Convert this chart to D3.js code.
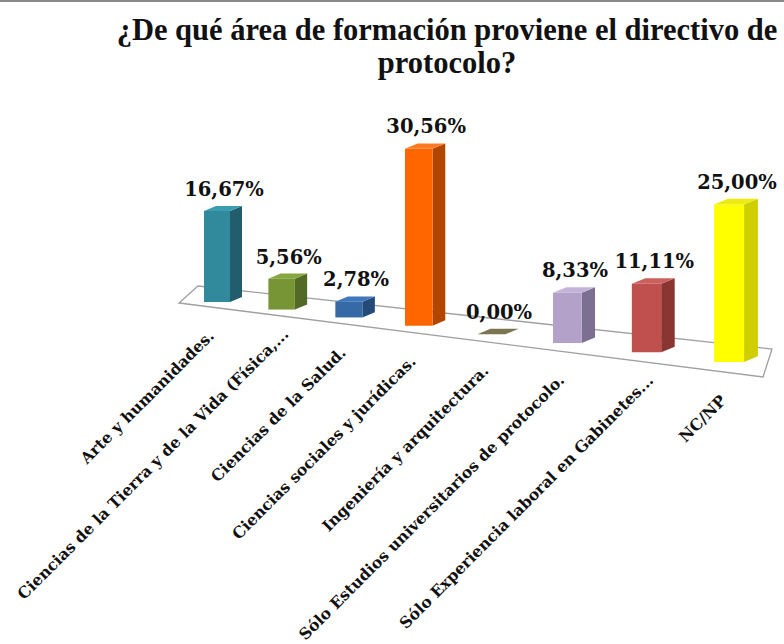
<!DOCTYPE html>
<html>
<head>
<meta charset="utf-8">
<script src="https://cdn.jsdelivr.net/npm/d3@7"></script>
<style>
  body { margin: 0; background: #fff; }
  svg { display: block; }
</style>
</head>
<body>
<div id="chart"></div>
<script>
const categories = [
    'Arte y humanidades.',
    'Ciencias de la Tierra y de la Vida (Física,...',
    'Ciencias de la Salud.',
    'Ciencias sociales y jurídicas.',
    'Ingeniería y arquitectura.',
    'Sólo Estudios universitarios de protocolo.',
    'Sólo Experiencia laboral en Gabinetes...',
    'NC/NP'
];
const values = [16.67, 5.56, 2.78, 30.56, 0.00, 8.33, 11.11, 25.00];
const frontColors = ['#31899c', '#779535', '#366aa6', '#ff6600', '#7d7452', '#b3a1c9', '#c0504d', '#ffff00'];
const sideColors = ['#215d6c', '#536a26', '#244a78', '#b04600', '#7d7452', '#7c6f91', '#8b3533', '#cfcf00'];
const topColors = ['#3a9db2', '#86a63f', '#3f78bb', '#ff7a22', '#7d7452', '#c3b3d7', '#cc605d', '#ecec10'];
const titleLines = ['¿De qué área de formación proviene el directivo de', 'protocolo?'];

const width = 784, height = 644;

const svg = d3.select('#chart')
    .append('svg')
    .attr('width', width)
    .attr('height', height);

// thin frame line at the top of the picture
svg.append('line')
    .attr('x1', 0).attr('x2', width)
    .attr('y1', 1).attr('y2', 1)
    .attr('stroke', '#8a8a8a')
    .attr('stroke-width', 2);

// perspective: category index -> screen x of the bar front, plus size factor
const persp = -0.019;
const uScale = d3.scalePoint().domain(categories).range([0, categories.length - 1]);
const spread = d3.scaleLinear().domain([0, 1]).range([217, 276.3]);
function depthScale(u) { return 1 / (1 + persp * u); }
function frontX(u) { return spread(u) * depthScale(u); }

const baseY = d3.scaleLinear().domain([217, 729]).range([302, 362]);
const yScale = d3.scaleLinear().domain([0, 1]).range([0, 5.46]);
const barWidth = 26;
const depthVec = [12, -5];

// floor of the 3D plot
const floor = [[179, 303], [763, 377], [772, 349], [198, 286]];
svg.append('path')
    .attr('d', 'M' + floor.join('L') + 'Z')
    .attr('fill', '#fff')
    .attr('stroke', '#a0a0a0')
    .attr('stroke-width', 1.3);
const frontEdgeY = d3.scaleLinear().domain([floor[0][0], floor[1][0]]).range([floor[0][1], floor[1][1]]);

const bars = categories.map((c, i) => {
    const u = uScale(c);
    const s = depthScale(u);
    const cx = frontX(u);
    const w = barWidth * s;
    const dx = depthVec[0] * s, dy = depthVec[1] * s;
    const yb = baseY(cx);
    const yt = yb - yScale(values[i]) * s;
    return { c, i, cx, x0: cx - w / 2, x1: cx + w / 2, yb, yt, dx, dy };
});

const poly = pts => 'M' + pts.map(p => p.join(',')).join('L') + 'Z';

const g = svg.append('g');
bars.forEach(b => {
    if (values[b.i] > 0) {
        g.append('path')
            .attr('d', poly([[b.x1, b.yb], [b.x1 + b.dx, b.yb + b.dy], [b.x1 + b.dx, b.yt + b.dy], [b.x1, b.yt]]))
            .attr('fill', sideColors[b.i]);
        g.append('path')
            .attr('d', poly([[b.x0, b.yb], [b.x1, b.yb], [b.x1, b.yt], [b.x0, b.yt]]))
            .attr('fill', frontColors[b.i]);
    }
    g.append('path')
        .attr('d', poly([[b.x0, b.yt], [b.x1, b.yt], [b.x1 + b.dx, b.yt + b.dy], [b.x0 + b.dx, b.yt + b.dy]]))
        .attr('fill', topColors[b.i]);
});

// value labels
const fmt = d3.format('.2f');
svg.selectAll('.value')
    .data(bars)
    .enter()
    .append('text')
    .attr('class', 'value')
    .attr('x', b => b.cx + b.dx / 2 + 1)
    .attr('y', b => b.yt + b.dy - 10)
    .attr('text-anchor', 'middle')
    .style('font-family', '"DejaVu Serif", serif')
    .style('font-weight', 'bold')
    .style('font-size', '19.5px')
    .style('fill', '#111')
    .text(b => fmt(values[b.i]).replace('.', ',') + '%');

// category labels, rotated; truncated ones sit a bit further out
svg.selectAll('.cat')
    .data(bars)
    .enter()
    .append('text')
    .attr('class', 'cat')
    .attr('text-anchor', 'end')
    .attr('transform', b => `translate(${b.cx - 2},${frontEdgeY(b.cx) + 29}) rotate(-45)`)
    .attr('dx', b => b.c.endsWith('...') ? 14 : 0)
    .style('font-family', '"DejaVu Serif", serif')
    .style('font-weight', 'bold')
    .style('font-size', '15.7px')
    .style('fill', '#111')
    .text(b => b.c);

// title
svg.selectAll('.title')
    .data(titleLines)
    .enter()
    .append('text')
    .attr('class', 'title')
    .attr('x', 447)
    .attr('y', (d, i) => 40 + i * 33)
    .attr('text-anchor', 'middle')
    .style('font-family', '"Liberation Serif", serif')
    .style('font-weight', 'bold')
    .style('font-size', '30.5px')
    .style('fill', '#111')
    .text(d => d);
</script>
</body>
</html>
